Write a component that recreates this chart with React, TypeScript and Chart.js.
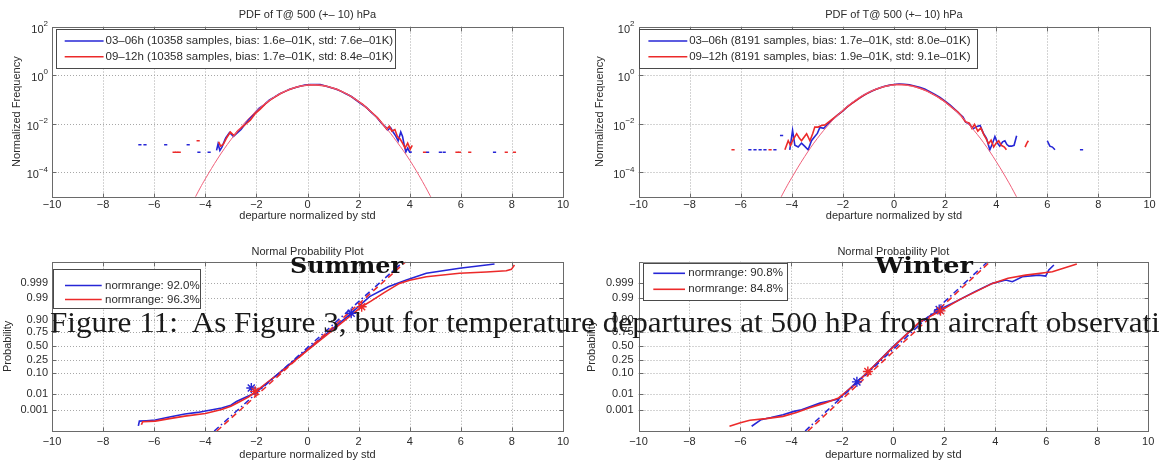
import React, { useEffect, useRef } from "react";
import { Chart, registerables } from "chart.js";

Chart.register(...registerables);

const SANS = '"Liberation Sans", Arial, Helvetica, sans-serif';
const BLUE = "#2626d6";
const RED = "#ec2a2a";
const FIT = "#f0607a";
const GRID = "#a8a8a8";
const AXIS = "#6a6a6a";
const TEXT = "#2b2b2b";

// ---------- tick labels ----------
const xTickValues = [-10, -8, -6, -4, -2, 0, 2, 4, 6, 8, 10];
const pdfYTickValues = [1e-4, 1e-2, 1, 1e2];
const pdfYTickExponents = ["\u22124", "\u22122", "0", "2"];
const probTickLabels = ["0.001", "0.01", "0.10", "0.25", "0.50", "0.75", "0.90", "0.99", "0.999"];
const probTickQuantiles = [-3.09, -2.326, -1.282, -0.674, 0, 0.674, 1.282, 2.326, 3.09];

// ---------- Summer PDF ----------
const sPdfBlueX = [-3.56, -3.5, -3.43, -3.35, -3.2, -3.05, -2.9, -2.75, -2.6, -2.45, -2.3, -2.1, -1.9, -1.7, -1.5, -1.3, -1.1, -0.9, -0.7, -0.5, -0.3, -0.1, 0.1, 0.3, 0.5, 0.7, 0.9, 1.1, 1.3, 1.5, 1.7, 1.9, 2.1, 2.3, 2.5, 2.7, 2.9, 3.05, 3.15, 3.25, 3.35, 3.45, 3.55, 3.65, 3.72, 3.78, 3.85, 3.92, 4.0, 4.08];
const sPdfBlueY = [8e-4, 1.5e-3, 8e-4, 1.1e-3, 2.6e-3, 4.4e-3, 3.0e-3, 4.2e-3, 5.8e-3, 9.5e-3, 1.5e-2, 2.5e-2, 4.3e-2, 6.0e-2, 9.4e-2, 0.124, 0.17, 0.21, 0.265, 0.3, 0.35, 0.39, 0.41, 0.41, 0.41, 0.36, 0.31, 0.27, 0.22, 0.17, 0.135, 0.095, 0.066, 0.047, 0.029, 0.019, 0.0105, 7.5e-3, 5.5e-3, 7.0e-3, 4.6e-3, 3.2e-3, 2.0e-3, 4.6e-3, 3.0e-3, 1.4e-3, 7e-4, 1.0e-3, 6.8e-4, 6.8e-4];
const sPdfRedX = [-3.48, -3.4, -3.3, -3.15, -3.02, -2.88, -2.72, -2.56, -2.4, -2.24, -2.05, -1.85, -1.65, -1.45, -1.25, -1.05, -0.85, -0.65, -0.45, -0.25, -0.05, 0.15, 0.35, 0.55, 0.75, 0.95, 1.15, 1.35, 1.55, 1.75, 1.95, 2.15, 2.35, 2.55, 2.75, 2.95, 3.1, 3.2, 3.3, 3.42, 3.52, 3.62, 3.72, 3.82, 3.92, 4.02, 4.1];
const sPdfRedY = [1.8e-3, 1.2e-3, 1.4e-3, 2.8e-3, 4.6e-3, 3.3e-3, 5.2e-3, 7.3e-3, 1.0e-2, 1.4e-2, 2.6e-2, 4.0e-2, 6.6e-2, 9.6e-2, 0.13, 0.175, 0.22, 0.27, 0.315, 0.355, 0.385, 0.4, 0.395, 0.38, 0.35, 0.305, 0.26, 0.21, 0.165, 0.125, 0.09, 0.064, 0.042, 0.027, 0.017, 0.0095, 6.0e-3, 8.0e-3, 5.0e-3, 5.8e-3, 3.0e-3, 2.4e-3, 1.6e-3, 1.0e-3, 1.6e-3, 9e-4, 1.3e-3];
const sFitX = [-4.45, -4.2, -4, -3.5, -3, -2.5, -2, -1.5, -1, -0.5, 0, 0.22, 0.5, 1, 1.5, 2, 2.5, 3, 3.5, 4, 4.5, 4.9];
const sFitY = [7.3e-6, 2.3e-5, 5.4e-5, 3.9e-4, 2.2e-3, 9.8e-3, 0.034, 0.091, 0.19, 0.308, 0.39, 0.399, 0.384, 0.294, 0.176, 0.082, 0.03, 8.4e-3, 1.8e-3, 3.2e-4, 4.2e-5, 7e-6];
const sTailBlueX = [-6.56, -6.36, -5.55, -4.67, -4.25, -3.85, 4.7, 5.2, 5.35, 7.32];
const sTailBlueY = [1.36e-3, 1.36e-3, 1.36e-3, 1.36e-3, 6.8e-4, 6.8e-4, 6.8e-4, 6.8e-4, 6.8e-4, 6.8e-4];
const sTailRedX = [-5.22, -5.12, -5.02, -4.28, 4.58, 5.85, 5.95, 6.35, 7.78, 8.1];
const sTailRedY = [6.8e-4, 6.8e-4, 6.8e-4, 2.0e-3, 6.8e-4, 6.8e-4, 6.8e-4, 6.8e-4, 6.8e-4, 6.8e-4];

// ---------- Winter PDF ----------
const wPdfBlueX = [-4.08, -3.97, -3.88, -3.75, -3.62, -3.5, -3.36, -3.23, -3.1, -3.0, -2.9, -2.75, -2.6, -2.4, -2.2, -2.0, -1.8, -1.6, -1.4, -1.2, -1.0, -0.8, -0.6, -0.4, -0.2, 0.0, 0.2, 0.4, 0.6, 0.8, 1.0, 1.2, 1.4, 1.6, 1.8, 2.0, 2.2, 2.4, 2.55, 2.7, 2.8, 2.95, 3.1, 3.25, 3.37, 3.5, 3.62, 3.75, 3.85, 3.95, 4.05, 4.14, 4.25, 4.34, 4.42, 4.5, 4.6, 4.7, 4.8, 5.4, 6.0, 6.1, 6.2, 6.3];
const wPdfBlueY = [8.5e-4, 5.3e-3, 1.3e-3, 1.1e-3, 1.6e-3, 1.2e-3, 8.5e-4, 2.0e-3, 3.0e-3, 4.0e-3, 7.0e-3, 6.5e-3, 9.5e-3, 1.5e-2, 2.3e-2, 3.4e-2, 5.3e-2, 7.6e-2, 0.105, 0.145, 0.19, 0.24, 0.29, 0.34, 0.38, 0.41, 0.43, 0.42, 0.4, 0.36, 0.32, 0.27, 0.21, 0.16, 0.12, 0.085, 0.058, 0.037, 0.026, 0.019, 0.012, 0.0095, 0.0062, 0.0078, 0.0085, 0.004, 0.0025, 8.5e-4, 1.5e-3, 3.0e-3, 1.6e-3, 1.2e-3, 1.8e-3, 2.0e-3, 1.4e-3, 1.2e-3, 1.2e-3, 1.3e-3, 3.2e-3, null, 2.0e-3, 1.2e-3, 1.1e-3, 8.5e-4];
const wPdfRedX = [-4.27, -4.14, -4.05, -3.95, -3.81, -3.7, -3.62, -3.5, -3.42, -3.29, -3.18, -3.1, -2.97, -2.84, -2.7, -2.5, -2.3, -2.1, -1.9, -1.7, -1.5, -1.3, -1.1, -0.9, -0.7, -0.5, -0.3, -0.1, 0.1, 0.3, 0.5, 0.7, 0.9, 1.1, 1.3, 1.5, 1.7, 1.9, 2.1, 2.3, 2.5, 2.65, 2.8, 2.95, 3.05, 3.15, 3.28, 3.4, 3.52, 3.6, 3.7, 3.8, 3.9, 4.0, 4.1, 4.2, 4.32, 4.4, 4.8, 5.13, 5.2, 5.26];
const wPdfRedY = [8.5e-4, 2.0e-3, 1.3e-3, 2.2e-3, 3.9e-3, 2.5e-3, 2.0e-3, 3.0e-3, 3.9e-3, 2.0e-3, 4.0e-3, 7.3e-3, 7.3e-3, 8.5e-3, 9.0e-3, 1.3e-2, 1.9e-2, 2.8e-2, 4.3e-2, 6.3e-2, 8.8e-2, 0.125, 0.165, 0.215, 0.26, 0.31, 0.355, 0.39, 0.41, 0.41, 0.39, 0.365, 0.32, 0.27, 0.22, 0.17, 0.13, 0.095, 0.066, 0.044, 0.03, 0.02, 0.012, 0.0105, 0.0065, 0.0095, 0.005, 0.0068, 0.0035, 0.0025, 0.0015, 0.0021, 0.0011, 0.0016, 0.002, 0.0013, 0.0011, 8.5e-4, null, 1.1e-3, 1.6e-3, 2.0e-3];
const wFitX = [-4.5, -4.25, -4, -3.5, -3, -2.5, -2, -1.5, -1, -0.5, 0, 0.19, 0.5, 1, 1.5, 2, 2.5, 3, 3.5, 4, 4.5, 4.85];
const wFitY = [6.7e-6, 2.1e-5, 6.1e-5, 4.4e-4, 2.5e-3, 0.0107, 0.036, 0.096, 0.197, 0.314, 0.392, 0.399, 0.38, 0.287, 0.169, 0.078, 0.028, 7.7e-3, 1.7e-3, 2.8e-4, 3.7e-5, 7.7e-6];
const wTailBlueX = [-5.64, -5.44, -5.24, -5.05, -4.66, -4.4, 7.34];
const wTailBlueY = [8.5e-4, 8.5e-4, 8.5e-4, 8.5e-4, 8.5e-4, 3.3e-3, 8.5e-4];
const wTailRedX = [-6.3, -4.85];
const wTailRedY = [8.5e-4, 8.5e-4];

// ---------- Summer normal probability plot (y = normal quantile) ----------
const sNpBlueX = [-6.62, -6.58, -6.3, -5.96, -5.4, -4.8, -4.3, -3.94, -3.36, -3.0, -2.78, -2.4, -2.05, -1.0, 0.0, 1.0, 1.71, 2.1, 2.43, 3.16, 3.87, 4.65, 5.95, 7.32];
const sNpBlueZ = [-3.85, -3.62, -3.6, -3.57, -3.42, -3.28, -3.2, -3.12, -2.99, -2.85, -2.67, -2.45, -2.26, -1.18, -0.15, 0.87, 1.6, 2.05, 2.41, 2.89, 3.21, 3.54, 3.78, 3.99];
const sNpRedX = [-6.5, -6.45, -5.96, -5.4, -4.8, -4.0, -3.36, -3.0, -2.64, -2.3, -2.05, -1.0, 0.0, 1.0, 2.12, 2.5, 3.0, 3.6, 4.0, 4.65, 5.95, 7.0, 7.78, 7.98, 8.1];
const sNpRedZ = [-3.8, -3.65, -3.62, -3.5, -3.38, -3.25, -3.06, -2.9, -2.67, -2.45, -2.2, -1.2, -0.2, 0.8, 1.92, 2.2, 2.6, 3.05, 3.2, 3.37, 3.54, 3.6, 3.66, 3.73, 3.94];
const sNpBlueRefX = [-3.65, 3.75];
const sNpRedRefX = [-3.55, 3.85];
const npRefZ = [-4.1, 4.1];
const sNpBlueStarX = [-2.2, 1.71];
const sNpBlueStarZ = [-2.02, 1.6];
const sNpRedStarX = [-2.05, 2.12];
const sNpRedStarZ = [-2.18, 1.92];

// ---------- Winter normal probability plot ----------
const wNpBlueX = [-5.56, -5.19, -4.8, -4.33, -3.9, -3.6, -2.88, -2.15, -1.43, -1.0, 0.0, 1.0, 1.8, 2.5, 3.2, 3.89, 4.41, 4.67, 5.06, 5.71, 5.98, 6.1, 6.3];
const wNpBlueZ = [-3.87, -3.55, -3.45, -3.31, -3.15, -3.07, -2.75, -2.55, -1.72, -1.25, 0.0, 1.12, 1.78, 2.2, 2.65, 3.05, 3.21, 3.13, 3.37, 3.45, 3.4, 3.7, 3.94];
const wNpRedX = [-6.43, -6.0, -5.63, -5.0, -4.33, -3.8, -3.31, -2.7, -2.15, -1.6, -1.0, 0.02, 1.0, 1.85, 2.58, 3.24, 3.89, 4.5, 5.19, 6.24, 7.2];
const wNpRedZ = [-3.87, -3.7, -3.58, -3.5, -3.39, -3.2, -2.99, -2.75, -2.5, -1.95, -1.25, 0.0, 1.15, 1.72, 2.25, 2.65, 3.05, 3.3, 3.45, 3.61, 3.99];
const wNpBlueRefX = [-3.46, 3.7];
const wNpRedRefX = [-3.35, 3.8];
const wNpBlueStarX = [-1.43, 1.8];
const wNpBlueStarZ = [-1.72, 1.78];
const wNpRedStarX = [-1.0, 1.85];
const wNpRedStarZ = [-1.22, 1.72];

// ---------- texts ----------
const pdfTitle = "PDF of T@ 500 (+\u2013 10) hPa";
const npTitle = "Normal Probability Plot";
const xTitle = "departure normalized by std";
const summerLegend = [
  "03\u201306h (10358 samples, bias: 1.6e\u201301K, std: 7.6e\u201301K)",
  "09\u201312h (10358 samples, bias: 1.7e\u201301K, std: 8.4e\u201301K)",
];
const winterLegend = [
  "03\u201306h (8191 samples, bias: 1.7e\u201301K, std: 8.0e\u201301K)",
  "09\u201312h (8191 samples, bias: 1.9e\u201301K, std: 9.1e\u201301K)",
];
const summerNpLegend = ["normrange: 92.0%", "normrange: 96.3%"];
const winterNpLegend = ["normrange: 90.8%", "normrange: 84.8%"];
const caption = "Figure 11:  As Figure 3, but for temperature departures at 500 hPa from aircraft observations.";
const captionVisible = "Figure 11:  As Figure 3, but for temperature departures at 500 hPa from aircraft observat";

// ---------- helpers ----------
const pts = (xs: number[], ys: (number | null)[]) => xs.map((x, i) => ({ x, y: ys[i] }));
const lineDs = (data: any[], color: string, width: number, dash: number[] = []) => ({
  data, showLine: true, borderColor: color, backgroundColor: color, borderWidth: width,
  borderDash: dash, pointRadius: 0, pointHoverRadius: 0, tension: 0, spanGaps: false,
});
const curveDs = (data: any[], color: string, width: number) => ({ ...lineDs(data, color, width), tension: 0.4 });
const dotDs = (data: any[], color: string) => ({
  data, showLine: false, pointStyle: "line", pointRadius: 1.6, borderColor: color, backgroundColor: color, borderWidth: 1.5,
});
const starDs = (data: any[], color: string) => ({
  data, showLine: false, pointStyle: "star", pointRadius: 5, borderColor: color, backgroundColor: color, borderWidth: 1.4,
});
const fmtX = (v: number) => (v < 0 ? "\u2212" + Math.abs(v) : String(v));

type Area = { left: number; right: number; top: number; bottom: number };
type LegendSpec = { x: number; y: number; w: number; h: number; rowY: number[]; lx1: number; lx2: number; tx: number; texts: string[] };
type PanelSpec = {
  pageLeft: number; pageTop: number; w: number; h: number; area: Area; kind: "pdf" | "np";
  datasets: any[]; legend: LegendSpec; title: string; titleY: number; xTitleY: number; yTitle: string; yTitleX: number;
  xTickPad: number; yTickPad: number;
};

function makePlugin(spec: PanelSpec) {
  return {
    id: "matlabAxes",
    beforeDatasetsDraw(chart: any) {
      const { ctx, chartArea: a } = chart;
      const xs = chart.scales.x, ys = chart.scales.y;
      ctx.save();
      ctx.strokeStyle = GRID;
      ctx.lineWidth = 1;
      ctx.setLineDash([1, 2]);
      for (const t of xs.ticks) {
        const p = Math.round(xs.getPixelForValue(t.value)) + 0.5;
        if (p <= a.left + 1.5 || p >= a.right - 1.5) continue;
        ctx.beginPath(); ctx.moveTo(p, a.top); ctx.lineTo(p, a.bottom); ctx.stroke();
      }
      for (const t of ys.ticks) {
        const p = Math.round(ys.getPixelForValue(t.value)) + 0.5;
        if (p <= a.top + 1.5 || p >= a.bottom - 1.5) continue;
        ctx.beginPath(); ctx.moveTo(a.left, p); ctx.lineTo(a.right, p); ctx.stroke();
      }
      ctx.restore();
    },
    afterDatasetsDraw(chart: any) {
      const { ctx, chartArea: a } = chart;
      const xs = chart.scales.x, ys = chart.scales.y;
      ctx.save();
      const L = Math.round(a.left) + 0.5, R = Math.round(a.right) + 0.5;
      const T = Math.round(a.top) + 0.5, B = Math.round(a.bottom) + 0.5;
      ctx.strokeStyle = AXIS;
      ctx.lineWidth = 1;
      ctx.strokeRect(L, T, R - L, B - T);
      const tl = 4;
      ctx.beginPath();
      for (const t of xs.ticks) {
        const p = Math.round(xs.getPixelForValue(t.value)) + 0.5;
        ctx.moveTo(p, B); ctx.lineTo(p, B - tl);
        ctx.moveTo(p, T); ctx.lineTo(p, T + tl);
      }
      for (const t of ys.ticks) {
        const p = Math.round(ys.getPixelForValue(t.value)) + 0.5;
        ctx.moveTo(L, p); ctx.lineTo(L + tl, p);
        ctx.moveTo(R, p); ctx.lineTo(R - tl, p);
      }
      ctx.stroke();
      // legend
      const lg = spec.legend;
      ctx.fillStyle = "#ffffff";
      ctx.fillRect(lg.x, lg.y, lg.w, lg.h);
      ctx.strokeStyle = "#4a4a4a";
      ctx.strokeRect(Math.round(lg.x) + 0.5, Math.round(lg.y) + 0.5, Math.round(lg.w), Math.round(lg.h));
      const colors = [BLUE, RED];
      ctx.font = `11.5px ${SANS}`;
      ctx.textBaseline = "middle";
      ctx.textAlign = "left";
      lg.texts.forEach((txt, i) => {
        ctx.strokeStyle = colors[i];
        ctx.lineWidth = 1.6;
        ctx.beginPath(); ctx.moveTo(lg.lx1, lg.rowY[i]); ctx.lineTo(lg.lx2, lg.rowY[i]); ctx.stroke();
        ctx.fillStyle = TEXT;
        ctx.fillText(txt, lg.tx, lg.rowY[i]);
      });
      ctx.restore();
    },
    afterDraw(chart: any) {
      const { ctx, chartArea: a } = chart;
      const ys = chart.scales.y;
      ctx.save();
      ctx.fillStyle = TEXT;
      ctx.font = `11px ${SANS}`;
      ctx.textAlign = "center";
      ctx.textBaseline = "middle";
      const cx = (a.left + a.right) / 2;
      ctx.fillText(spec.title, cx, spec.titleY);
      ctx.fillText(xTitle, cx, spec.xTitleY);
      ctx.save();
      ctx.translate(spec.yTitleX, (a.top + a.bottom) / 2);
      ctx.rotate(-Math.PI / 2);
      ctx.fillText(spec.yTitle, 0, 0);
      ctx.restore();
      if (spec.kind === "pdf") {
        pdfYTickValues.forEach((v, i) => {
          const py = ys.getPixelForValue(v);
          const exp = pdfYTickExponents[i];
          ctx.font = `11px ${SANS}`;
          const wb = ctx.measureText("10").width;
          ctx.font = `8px ${SANS}`;
          const we = ctx.measureText(exp).width;
          const x0 = a.left - 4 - wb - we;
          ctx.textAlign = "left";
          ctx.font = `11px ${SANS}`;
          ctx.fillText("10", x0, py + 3);
          ctx.font = `8px ${SANS}`;
          ctx.fillText(exp, x0 + wb, py - 3);
        });
      }
      ctx.restore();
    },
  };
}

function makeConfig(spec: PanelSpec) {
  const { w, h, area } = spec;
  const yScale =
    spec.kind === "pdf"
      ? {
          type: "logarithmic", min: 1e-5, max: 1e2,
          grid: { display: false, drawTicks: false }, border: { display: false },
          ticks: { display: false },
          afterBuildTicks: (s: any) => { s.ticks = pdfYTickValues.map((v) => ({ value: v })); },
          afterFit: (s: any) => { s.width = area.left; },
        }
      : {
          type: "linear", min: -4.1, max: 4.1,
          grid: { display: false, drawTicks: false }, border: { display: false },
          ticks: { padding: spec.yTickPad, color: TEXT, font: { family: SANS, size: 11 }, callback: (_v: any, i: number) => probTickLabels[i] },
          afterBuildTicks: (s: any) => { s.ticks = probTickQuantiles.map((v) => ({ value: v })); },
          afterFit: (s: any) => { s.width = area.left; },
        };
  return {
    type: "scatter",
    data: { datasets: spec.datasets },
    plugins: [makePlugin(spec)],
    options: {
      responsive: false, animation: false, devicePixelRatio: 1, events: [],
      layout: { padding: { left: 0, top: area.top, right: w - area.right, bottom: 0 } },
      plugins: { legend: { display: false }, tooltip: { enabled: false }, title: { display: false } },
      scales: {
        x: {
          type: "linear", min: -10, max: 10,
          grid: { display: false, drawTicks: false }, border: { display: false },
          ticks: { padding: spec.xTickPad, color: TEXT, font: { family: SANS, size: 11 }, maxRotation: 0, autoSkip: false, callback: (v: any) => fmtX(Number(v)) },
          afterBuildTicks: (s: any) => { s.ticks = xTickValues.map((v) => ({ value: v })); },
          afterFit: (s: any) => { s.height = h - area.bottom; },
        },
        y: yScale,
      },
    },
  };
}

function Panel({ spec }: { spec: PanelSpec }) {
  const ref = useRef<HTMLCanvasElement | null>(null);
  useEffect(() => {
    const chart = new Chart(ref.current as HTMLCanvasElement, makeConfig(spec) as any);
    return () => chart.destroy();
  }, []);
  return (
    <canvas
      ref={ref}
      width={spec.w}
      height={spec.h}
      style={{ position: "absolute", left: spec.pageLeft, top: spec.pageTop, width: spec.w, height: spec.h }}
    />
  );
}

function FitText(props: { text: string; measure?: string; left: number; baseline: number; width: number; family: string; size: number; weight?: string; color?: string }) {
  const { text, measure, left, baseline, width, family, size, weight = "normal", color = "#111" } = props;
  const ctx = document.createElement("canvas").getContext("2d") as CanvasRenderingContext2D;
  ctx.font = `${weight} ${size}px ${family}`;
  const m = ctx.measureText(measure ?? text);
  const asc = (m as any).fontBoundingBoxAscent ?? size * 0.9;
  const desc = (m as any).fontBoundingBoxDescent ?? size * 0.25;
  const scale = width / m.width;
  return (
    <div
      style={{
        position: "absolute", left, top: baseline - asc, fontFamily: family, fontSize: size, fontWeight: weight as any,
        lineHeight: `${asc + desc}px`, whiteSpace: "pre", color, transform: `scaleX(${scale})`, transformOrigin: "0 0",
      }}
    >
      {text}
    </div>
  );
}

const topH = 231;
const botH = 232;

const panels: PanelSpec[] = [
  {
    pageLeft: 0, pageTop: 0, w: 580, h: topH, area: { left: 52, right: 563, top: 26.5, bottom: 196.7 }, kind: "pdf",
    datasets: [
      lineDs(pts(sPdfBlueX, sPdfBlueY), BLUE, 1.6),
      lineDs(pts(sPdfRedX, sPdfRedY), RED, 1.6),
      curveDs(pts(sFitX, sFitY), FIT, 1),
      dotDs(pts(sTailBlueX, sTailBlueY), BLUE),
      dotDs(pts(sTailRedX, sTailRedY), RED),
    ].reverse(),
    legend: { x: 55.5, y: 29.3, w: 339, h: 39, rowY: [41, 56.7], lx1: 64.7, lx2: 103.6, tx: 105.5, texts: summerLegend },
    title: pdfTitle, titleY: 15, xTitleY: 216, yTitle: "Normalized Frequency", yTitleX: 16.6, xTickPad: 1.5, yTickPad: 4,
  },
  {
    pageLeft: 580, pageTop: 0, w: 579, h: topH, area: { left: 58.5, right: 569.5, top: 26.5, bottom: 196.7 }, kind: "pdf",
    datasets: [
      lineDs(pts(wPdfBlueX, wPdfBlueY), BLUE, 1.6),
      lineDs(pts(wPdfRedX, wPdfRedY), RED, 1.6),
      curveDs(pts(wFitX, wFitY), FIT, 1),
      dotDs(pts(wTailBlueX, wTailBlueY), BLUE),
      dotDs(pts(wTailRedX, wTailRedY), RED),
    ].reverse(),
    legend: { x: 59.2, y: 29.3, w: 338, h: 39, rowY: [41, 56.7], lx1: 68.4, lx2: 107.3, tx: 109.2, texts: winterLegend },
    title: pdfTitle, titleY: 15, xTitleY: 216, yTitle: "Normalized Frequency", yTitleX: 20.3, xTickPad: 1.5, yTickPad: 4,
  },
  {
    pageLeft: 0, pageTop: topH, w: 580, h: botH, area: { left: 52, right: 563, top: 30.7, bottom: 200 }, kind: "np",
    datasets: [
      lineDs(pts(sNpBlueX, sNpBlueZ), BLUE, 1.6),
      lineDs(pts(sNpRedX, sNpRedZ), RED, 1.6),
      lineDs(pts(sNpBlueRefX, npRefZ), BLUE, 1.5, [6, 3, 1.5, 3]),
      lineDs(pts(sNpRedRefX, npRefZ), RED, 1.5, [6, 4]),
      starDs(pts(sNpBlueStarX, sNpBlueStarZ), BLUE),
      starDs(pts(sNpRedStarX, sNpRedStarZ), RED),
    ].reverse(),
    legend: { x: 53.3, y: 38.3, w: 147, h: 38.7, rowY: [54.5, 68.5], lx1: 65, lx2: 101.7, tx: 105, texts: summerNpLegend },
    title: npTitle, titleY: 21, xTitleY: 224, yTitle: "Probability", yTitleX: 7.5, xTickPad: 4.7, yTickPad: 4,
  },
  {
    pageLeft: 580, pageTop: topH, w: 579, h: botH, area: { left: 58.5, right: 569.5, top: 30.7, bottom: 200 }, kind: "np",
    datasets: [
      lineDs(pts(wNpBlueX, wNpBlueZ), BLUE, 1.6),
      lineDs(pts(wNpRedX, wNpRedZ), RED, 1.6),
      lineDs(pts(wNpBlueRefX, npRefZ), BLUE, 1.5, [6, 3, 1.5, 3]),
      lineDs(pts(wNpRedRefX, npRefZ), RED, 1.5, [6, 4]),
      starDs(pts(wNpBlueStarX, wNpBlueStarZ), BLUE),
      starDs(pts(wNpRedStarX, wNpRedStarZ), RED),
    ].reverse(),
    legend: { x: 63, y: 31.7, w: 144, h: 37.3, rowY: [42.3, 58.3], lx1: 73.3, lx2: 105, tx: 108.3, texts: winterNpLegend },
    title: npTitle, titleY: 21, xTitleY: 224, yTitle: "Probability", yTitleX: 12, xTickPad: 4.7, yTickPad: 5,
  },
];

export default function App() {
  return (
    <div style={{ position: "absolute", left: 0, top: 0, width: 1159, height: 463, overflow: "hidden", background: "#ffffff" }}>
      {panels.map((p, i) => (
        <Panel key={i} spec={p} />
      ))}
      <FitText text="Summer" left={290} baseline={273} width={113} family='"DejaVu Serif", serif' size={22} weight="bold" color="#111" />
      <FitText text="Winter" left={875} baseline={272.5} width={98} family='"DejaVu Serif", serif' size={22} weight="bold" color="#111" />
      <FitText text={caption} measure={captionVisible} left={50} baseline={331.7} width={1103} family='"Liberation Serif", "Times New Roman", serif' size={30} color="#1a1a1a" />
    </div>
  );
}
